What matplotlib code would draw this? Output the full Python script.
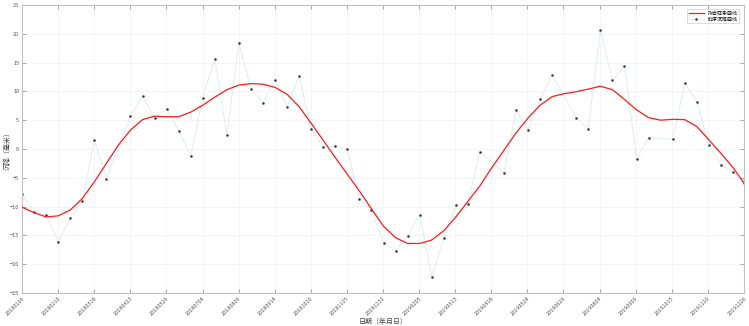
import matplotlib
matplotlib.use('Agg')
import matplotlib.pyplot as plt
import matplotlib.dates as mdates
import numpy as np
import pandas as pd

plt.rcParams['font.family'] = ['Noto Sans CJK SC', 'DejaVu Sans']

# acquisition dates (12-day revisit); None in obs = no observation
dates = ['2018-01-06', '2018-01-18', '2018-01-30', '2018-02-11', '2018-02-23',
         '2018-03-07', '2018-03-19', '2018-03-31', '2018-04-12', '2018-04-24',
         '2018-05-06', '2018-05-18', '2018-05-30', '2018-06-11', '2018-06-23',
         '2018-07-05', '2018-07-17', '2018-07-29', '2018-08-10', '2018-08-22',
         '2018-09-03', '2018-09-15', '2018-09-27', '2018-10-09', '2018-10-21',
         '2018-11-02', '2018-11-14', '2018-11-26', '2018-12-08', '2018-12-20',
         '2019-01-01', '2019-01-13', '2019-01-25', '2019-02-06', '2019-02-18',
         '2019-03-02', '2019-03-14', '2019-03-26', '2019-04-07', '2019-04-19',
         '2019-05-01', '2019-05-13', '2019-05-25', '2019-06-06', '2019-06-18',
         '2019-06-30', '2019-07-12', '2019-07-24', '2019-08-05', '2019-08-17',
         '2019-08-29', '2019-09-10', '2019-09-22', '2019-10-04', '2019-10-16',
         '2019-10-28', '2019-11-09', '2019-11-21', '2019-12-03', '2019-12-15',
         '2019-12-26']

obs = [-7.8, -10.9, -11.5, -16.1, -12.0, -9.1, 1.6, -5.15, None, 5.8,
       9.2, 5.4, 7.0, 3.2, -1.3, 8.9, 15.7, 2.4, 18.35, 10.4,
       8.0, 11.9, 7.3, 12.7, 3.5, 0.3, 0.5, 0.0, -8.7, -10.6,
       -16.3, -17.7, -15.1, -11.4, -22.2, -15.4, -9.8, -9.5, -0.5, None,
       -4.1, 6.7, 3.35, 8.7, 12.9, None, 5.4, 3.5, 20.7, 11.9,
       14.4, -1.7, 1.96, None, 1.7, 11.4, 8.2, 0.75, -2.7, -4.0,
       -5.85]

fit = [-10.1, -11.05, -11.8, -11.6, -10.6, -8.6, -5.7, -2.5, 0.7, 3.3,
       5.1, 5.7, 5.6, 5.6, 6.4, 7.6, 9.0, 10.3, 11.1, 11.35,
       11.25, 10.7, 9.5, 7.35, 4.45, 1.5, -1.5, -4.4, -7.3, -10.4,
       -13.4, -15.4, -16.4, -16.4, -15.8, -14.2, -11.8, -9.1, -6.4, -3.2,
       -0.2, 2.8, 5.4, 7.6, 9.1, 9.6, 9.95, 10.4, 10.9, 10.3,
       8.6, 6.8, 5.45, 5.0, 5.15, 5.1, 3.9, 1.6, -0.75, -3.2,
       -5.9]

t = pd.to_datetime(dates)
obs_t = [d for d, v in zip(t, obs) if v is not None]
obs_v = [v for v in obs if v is not None]

fig = plt.figure(figsize=(7.49, 3.26), dpi=100)
ax = fig.add_axes([0.0294, 0.1012, 0.9639, 0.8835])

ax.plot(obs_t, obs_v, color='#d8eaf6', lw=0.6, marker='.', ms=1.6,
        mfc='#333333', mec='#333333', label='时序沉降曲线', zorder=2)
ax.plot(t, fit, color='#ff1a1a', lw=0.9, label='拟合样条曲线', zorder=3)

xmin = mdates.date2num(t[0])
xmax = mdates.date2num(t[-1])
ax.set_xlim(xmin, xmax)
ax.set_ylim(-25, 25)
ticks = np.linspace(xmin, xmax, 21)
ax.set_xticks(ticks)
ax.set_xticklabels([mdates.num2date(np.floor(v)).strftime('%Y%m%d') for v in ticks],
                   rotation=45, ha='right', rotation_mode='anchor')
ax.set_yticks(np.arange(-25, 26, 5))

ax.tick_params(direction='in', length=3, width=0.6, color='#999999',
               labelsize=4, labelcolor='#555555', top=True, right=True, pad=2)
for s in ax.spines.values():
    s.set_color('#c0c0c0')
    s.set_linewidth(0.8)
ax.grid(True, color='#eef1f4', lw=0.5)
ax.set_axisbelow(True)

ax.set_xlabel('日期（年月日）', fontsize=5, color='#444444', labelpad=1)
ax.set_ylabel('沉降（毫米）', fontsize=5, color='#444444')
ax.yaxis.set_label_coords(-0.0145, 0.5)

h, l = ax.get_legend_handles_labels()
leg = ax.legend(h[::-1], l[::-1], loc='upper right', fontsize=3.6, fancybox=False,
                framealpha=1, edgecolor='#cccccc', borderaxespad=0.9,
                handlelength=3, borderpad=0.3, labelspacing=0.2)
leg.get_frame().set_linewidth(0.5)

fig.savefig('out.png', dpi=100)
